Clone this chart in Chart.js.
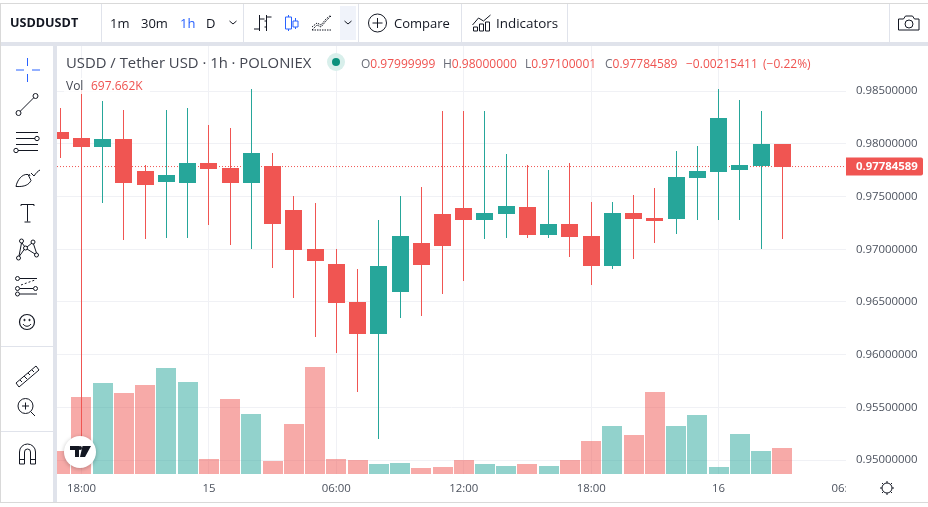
<!DOCTYPE html>
<html>
<head>
<meta charset="utf-8">
<title>USDDUSDT</title>
<script src="https://cdn.jsdelivr.net/npm/chart.js@4"></script>
<style>
html, body { margin: 0; padding: 0; background: #fff; }
body { width: 928px; height: 507px; overflow: hidden; position: relative; font-family: "Open Sans", sans-serif; color: #131722; }
canvas { position: absolute; left: 0; top: 0; }
.box { position: absolute; }
.txt { position: absolute; white-space: nowrap; line-height: 16px; }
.tb { font-size: 13px; top: 15px; }
.lg { font-size: 12px; top: 56px; color: #ef5350; }
.lg b { font-weight: 400; color: #6a6d78; }
svg { position: absolute; overflow: visible; fill: none; stroke: #131722; stroke-width: 1; }
</style>
</head>
<body>
<canvas id="chart" width="928" height="507"></canvas>

<!-- frame -->
<div class="box" style="left:0;top:3px;width:928px;height:1px;background:#d9d9d9"></div>
<div class="box" style="left:0;top:42px;width:928px;height:4px;background:#e0e3eb"></div>
<div class="box" style="left:53px;top:42px;width:4px;height:460px;background:#e0e3eb"></div>
<div class="box" style="left:0;top:3px;width:1px;height:499px;background:#d9d9d9"></div>
<div class="box" style="left:0;top:502px;width:928px;height:1px;background:#d9d9d9"></div>
<div class="box" style="left:1px;top:346px;width:52px;height:1px;background:#e0e3eb"></div>
<div class="box" style="left:1px;top:431px;width:52px;height:1px;background:#e0e3eb"></div>
<div class="box" style="left:101px;top:4px;width:1px;height:38px;background:#e0e3eb"></div>
<div class="box" style="left:243px;top:4px;width:1px;height:38px;background:#e0e3eb"></div>
<div class="box" style="left:358px;top:4px;width:1px;height:38px;background:#e0e3eb"></div>
<div class="box" style="left:461px;top:4px;width:1px;height:38px;background:#e0e3eb"></div>
<div class="box" style="left:567px;top:4px;width:1px;height:38px;background:#e0e3eb"></div>
<div class="box" style="left:889px;top:4px;width:1px;height:38px;background:#e0e3eb"></div>
<div class="box" style="left:340px;top:6px;width:16px;height:34px;background:#f0f3fa"></div>

<!-- top toolbar -->
<div class="txt tb" style="left:10px;font-weight:700;font-size:12.6px">USDDUSDT</div>
<div class="txt tb" style="left:110px">1m</div>
<div class="txt tb" style="left:141px">30m</div>
<div class="txt tb" style="left:180px;color:#2962ff">1h</div>
<div class="txt tb" style="left:206px">D</div>
<div class="txt tb" style="left:394px;font-size:13px">Compare</div>
<div class="txt tb" style="left:496px;font-size:13.4px">Indicators</div>
<svg style="left:0;top:0" width="928" height="42">
  <path d="M229.5 21l3.5 3 3.5-3M344.5 21l3.5 3 3.5-3"/>
  <path d="M259.5 15v16M254 29h5.5M259.5 19h5M266.5 15v16M266.5 21h-2M266.5 17h5M266.5 27h-2"/>
  <path stroke="#2962ff" d="M288.5 15v2M288.5 29v2M285.5 17h6v12h-6zM295.5 18v3M295.5 27v2M293 21h5v6h-5z"/>
  <path d="M312 30l5-5 4 2 5-6 5-5M312 30h19M312 27l5-4 4 2 5-6 5-4" stroke-dasharray="1.5 1"/>
  <circle cx="377.5" cy="23" r="9"/>
  <path d="M377.5 18v10M372.5 23h10"/>
  <path d="M472.5 25l6-7 5 3 7-6M473.500 31v-4h4v4zM479.5 31v-7h4v7zM485.5 31v-9h4v9z"/>
  <path d="M898.500 19h5l2-3h7l2 3h4.500v11h-20.500z"/>
  <circle cx="909" cy="24" r="4"/>
</svg>

<!-- left toolbar -->
<svg style="left:0;top:46px" width="53" height="456">
  <path stroke="#2962ff" d="M27.500 16v8M27.500 32v8M16 28h8M32 28h8" transform="translate(0,-4)"/>
  <circle cx="18.500" cy="67" r="2.500"/><circle cx="35.500" cy="50" r="2.500"/><path d="M20.300 65.200l13.400-13.400"/>
  <path d="M16 86.500h22M16 92.500h19M16 98.500h22M18 104.500h20"/><circle cx="37" cy="92.500" r="2.200"/><circle cx="16" cy="104.500" r="2.200"/>
  <path d="M16 140.500c1-6 6-13 12-12l3 6c-2 4-6 6.500-15 6zM31 127l3 3c2-3 4-5 6-6M30 130l-1-2"/>
  <path d="M21 160v-1.500h13v1.500M27.500 158.500v17M24.500 176h6"/>
  <circle cx="18.500" cy="212" r="2"/><circle cx="21.500" cy="195" r="2"/><circle cx="25.500" cy="202" r="2"/><circle cx="33" cy="196" r="2"/><circle cx="36.500" cy="209" r="2"/>
  <path d="M19 210l2.500-13M22 197l3 4M19.500 210l5-7M27 201l5-4M27 203l8 5M33.500 198l3 9"/>
  <circle cx="17.500" cy="232.500" r="2"/><circle cx="17.500" cy="242.500" r="2"/><circle cx="17.500" cy="248" r="2"/><circle cx="35.500" cy="242.500" r="2"/>
  <path d="M20 232.500h17M20 248h17M20 242.500h13"/><path d="M21 239l14-5" stroke-dasharray="2 2"/>
  <circle cx="27" cy="276" r="7.500" stroke-width="1.200"/>
  <circle cx="24.500" cy="274" r=".7" fill="#131722"/><circle cx="29.500" cy="274" r=".7" fill="#131722"/>
  <path d="M23 278c2 3 6 3 8 0"/>
  <path d="M16 337l20-17 3 4-20 17zM20 334l2 2M24 330l3 3M28 327l2 2M32 324l2 2"/>
  <circle cx="25.500" cy="360" r="7.500"/><path d="M25.500 356.500v7M22 360h7M31 366l4 4"/>
  <path d="M19.500 418v-12a8 8 0 0 1 16 0v12h-5v-12a3 3 0 0 0-6 0v12zM19.500 413.500h5M30.500 413.500h5"/>
</svg>
<svg style="left:879px;top:480px" width="16" height="16">
  <circle cx="8" cy="8" r="5"/>
  <path d="M8 1v2M8 13v2M1 8h2M13 8h2M3 3l1.500 1.500M11.500 11.500l1.500 1.500M3 13l1.500-1.500M11.500 4.500l1.500-1.500"/>
</svg>

<!-- legend -->
<div class="txt" style="left:66px;top:54px;font-size:14.85px;color:#434651">USDD / Tether USD &middot; 1h &middot; POLONIEX</div>
<div class="box" style="left:327px;top:53px;width:18px;height:18px;border-radius:9px;background:#d8efeb"></div>
<div class="box" style="left:332px;top:58px;width:8px;height:8px;border-radius:4px;background:#0a917c"></div>
<div class="txt lg" style="left:361px"><b>O</b>0.97999999</div>
<div class="txt lg" style="left:443px"><b>H</b>0.98000000</div>
<div class="txt lg" style="left:525px"><b>L</b>0.97100001</div>
<div class="txt lg" style="left:605px"><b>C</b>0.97784589</div>
<div class="txt lg" style="left:686px">&minus;0.00215411</div>
<div class="txt lg" style="left:763px">(&minus;0.22%)</div>
<div class="box" style="left:64px;top:78px;width:86px;height:16px;background:rgba(255,255,255,.8)"></div>
<div class="txt" style="left:66px;top:78px;font-size:12px;color:#434651">Vol</div>
<div class="txt" style="left:91px;top:78px;font-size:12px;color:#ef5350">697.662K</div>

<!-- logo -->
<div class="box" style="left:64px;top:436px;width:32px;height:32px;border-radius:16px;background:#fff;box-shadow:0 1px 4px rgba(0,0,0,.25)"></div>
<svg style="left:70px;top:446px;fill:#131722;stroke:none" width="22" height="12">
  <path d="M0 0h9v11h-4v-7h-5zM12.500 0h8.500l-6 11h-5zM10 0a2 2 0 1 1 0 4 2 2 0 0 1 0-4z"/>
</svg>

<script>
const opens = [0.98114, 0.98057, 0.97972, 0.98048, 0.97744, 0.97640, 0.97630, 0.97820, 0.97773, 0.97630, 0.97791, 0.97374, 0.97004, 0.96862, 0.96501, 0.96198, 0.96596, 0.97061, 0.97336, 0.97393, 0.97279, 0.97336, 0.97403, 0.97137, 0.97241, 0.97128, 0.96843, 0.97346, 0.97298, 0.97289, 0.97678, 0.97735, 0.97754, 0.97791, 0.97999999];
const highs = [0.98342, 0.98522, 0.98408, 0.98323, 0.97801, 0.98323, 0.98342, 0.98180, 0.98152, 0.98522, 0.97915, 0.97507, 0.97441, 0.97004, 0.96815, 0.97279, 0.97507, 0.97592, 0.98313, 0.98313, 0.98313, 0.97905, 0.97801, 0.97754, 0.97820, 0.97450, 0.97450, 0.97516, 0.97583, 0.97934, 0.97981, 0.98522, 0.98417, 0.98313, 0.98000000];
const lows = [0.97867, 0.95221, 0.97441, 0.97090, 0.97099, 0.97109, 0.97109, 0.97232, 0.97042, 0.97004, 0.96824, 0.96539, 0.96170, 0.96018, 0.95648, 0.95202, 0.96350, 0.96369, 0.96577, 0.96701, 0.97099, 0.97109, 0.97109, 0.97109, 0.96928, 0.96663, 0.96815, 0.96909, 0.97061, 0.97147, 0.97279, 0.97279, 0.97279, 0.97004, 0.97100001];
const closes = [0.98048, 0.97972, 0.98048, 0.97630, 0.97611, 0.97706, 0.97820, 0.97763, 0.97630, 0.97915, 0.97241, 0.96995, 0.96890, 0.96492, 0.96198, 0.96843, 0.97128, 0.96853, 0.97033, 0.97279, 0.97346, 0.97412, 0.97137, 0.97241, 0.97118, 0.96843, 0.97346, 0.97289, 0.97270, 0.97687, 0.97744, 0.98247, 0.97801, 0.98000, 0.97784589];
const volumes = [617, 2066, 2442, 2173, 2388, 2844, 2468, 402, 2012, 1610, 349, 1342, 2871, 402, 376, 268, 295, 161, 188, 376, 268, 215, 268, 215, 376, 885, 1288, 1046, 2200, 1288, 1583, 188, 1073, 617, 698];
const xTickValues = [1, 7, 13, 19, 25, 31, 37];
const xTickLabels = ['18:00', '15', '06:00', '12:00', '18:00', '16', '06:00'];
const priceTicks = [0.95, 0.955, 0.96, 0.965, 0.97, 0.975, 0.98, 0.985];
const lastPrice = 0.97784589;

const UP = '#26a69a';
const DOWN = '#f05552';
const UP_VOL = 'rgba(38,166,154,.5)';
const DOWN_VOL = 'rgba(240,85,82,.5)';
const GRID = '#f0f1f5';
const FONT = '"Open Sans", sans-serif';

var isUp = closes.map((c, i) => c >= opens[i]);

// snap bars to whole pixels, otherwise 1px wicks come out blurry
const snapBars = {
    id: 'snapBars',
    afterDatasetsUpdate(chart) {
        chart.data.datasets.forEach((ds, n) => {
            if (ds.type === 'line') return;
            chart.getDatasetMeta(n).data.forEach(el => {
                el.x = ds.snapOdd ? Math.floor(el.x) + 0.5 : Math.round(el.x);
                el.y = Math.round(el.y);
                el.base = Math.round(el.base);
                el.height = el.base - el.y;
            });
        });
    }
};

// clips the cut-off time label at the price axis, then the last price tag
const priceTag = {
    id: 'priceTag',
    afterDatasetsDraw(chart) {
        var ctx = chart.ctx;
        ctx.save();
        ctx.fillStyle = '#fff';
        ctx.fillRect(846, 475, 82, 27);
        ctx.restore();
    },
    afterDraw(chart) {
        var ctx = chart.ctx;
        var y = Math.floor(chart.scales.y.getPixelForValue(lastPrice)) + 0.5;
        ctx.save();
        ctx.fillStyle = DOWN;
        ctx.beginPath();
        ctx.roundRect(846, y - 9, 77, 18, [0, 2, 2, 0]);
        ctx.fill();
        ctx.fillStyle = '#fff';
        ctx.font = '700 11.4px ' + FONT;
        ctx.textBaseline = 'middle';
        ctx.fillText(lastPrice.toFixed(8), 856, y + 0.5);
        ctx.restore();
    }
};

const myChart = new Chart(document.getElementById('chart'), {
    data: {
        datasets: [
            {
                type: 'bar',
                yAxisID: 'vol',
                order: 4,
                barThickness: 20,
                inflateAmount: 0,
                data: volumes.map((v, i) => ({ x: i, y: v })),
                backgroundColor: isUp.map(u => u ? UP_VOL : DOWN_VOL)
            },
            {
                type: 'line',
                yAxisID: 'y',
                order: 3,
                data: [{ x: -0.153, y: lastPrice }, { x: 37, y: lastPrice }],
                borderColor: DOWN,
                borderWidth: 1,
                borderDash: [1, 2],
                pointRadius: 0
            },
            {
                type: 'bar',
                yAxisID: 'y',
                order: 2,
                snapOdd: true,
                barThickness: 1,
                inflateAmount: 0,
                data: lows.map((l, i) => ({ x: i, y: [l, highs[i]] })),
                backgroundColor: isUp.map(u => u ? UP : DOWN)
            },
            {
                type: 'bar',
                yAxisID: 'y',
                order: 1,
                snapOdd: true,
                barThickness: 17,
                inflateAmount: 0,
                data: opens.map((o, i) => ({ x: i, y: [o, closes[i]] })),
                backgroundColor: isUp.map(u => u ? UP : DOWN)
            }
        ]
    },
    options: {
        responsive: false,
        animation: false,
        devicePixelRatio: 1,
        layout: { padding: { left: 57, top: 46, right: 0, bottom: 0 } },
        datasets: { bar: { grouped: false } },
        plugins: { legend: { display: false }, tooltip: { enabled: false } },
        scales: {
            x: {
                type: 'linear',
                offset: false,
                min: -0.153,
                max: 37,
                afterBuildTicks: s => { s.ticks = xTickValues.map(v => ({ value: v })); },
                afterFit: s => { s.height = 33; },
                border: { display: false },
                grid: {
                    offset: false,
                    color: c => c.index === xTickValues.length - 1 ? 'transparent' : GRID,
                    drawTicks: false
                },
                ticks: {
                    autoSkip: false,
                    maxRotation: 0,
                    padding: 8,
                    color: '#4c525e',
                    font: { family: FONT, size: 11.4 },
                    callback: (v, i) => xTickLabels[i]
                }
            },
            y: {
                position: 'right',
                min: 0.948685,
                max: 0.989281,
                afterBuildTicks: s => { s.ticks = priceTicks.map(v => ({ value: v })); },
                afterFit: s => { s.width = 82; },
                border: { display: false },
                grid: { color: GRID, drawTicks: false },
                ticks: {
                    z: 1,
                    padding: 10,
                    color: '#4c525e',
                    font: { family: FONT, size: 11.4 },
                    callback: v => v.toFixed(8)
                }
            },
            vol: {
                display: false,
                min: 0,
                max: 11483
            }
        }
    },
    plugins: [snapBars, priceTag]
});
</script>
</body>
</html>
